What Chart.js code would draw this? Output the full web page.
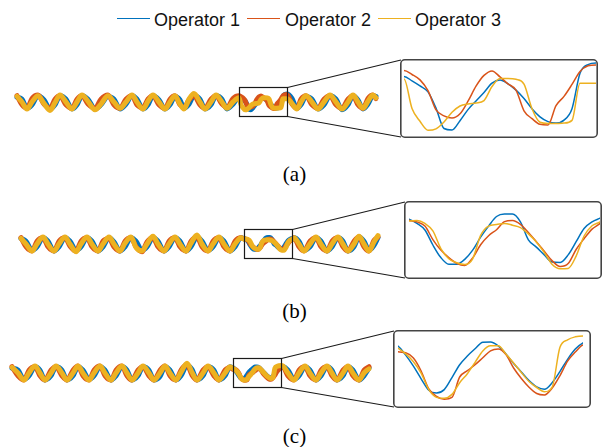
<!DOCTYPE html>
<html><head><meta charset="utf-8">
<script src="https://cdn.jsdelivr.net/npm/chart.js@4.4.0/dist/chart.umd.min.js"></script>
<style>
html,body{margin:0;padding:0;background:#fff;}
#wrap{position:relative;width:603px;height:447px;overflow:hidden;background:#fff;}
#wrap canvas{position:absolute;}
.leg{position:absolute;font-family:"Liberation Sans",Arial,sans-serif;font-size:18px;line-height:18px;color:#111;white-space:nowrap;}
.sw{position:absolute;height:1px;width:33px;}
.lab{position:absolute;font-family:"Liberation Serif","Times New Roman",serif;font-size:21px;line-height:21px;width:100px;text-align:center;color:#000;}
</style></head><body>
<div id="wrap"></div>
<script>
// ---------- DATA ----------
const SERIES_NAMES = ['Operator 1', 'Operator 2', 'Operator 3'];
const PANEL_LABELS = ['(a)', '(b)', '(c)'];

// Panel (a): sample index, three operators (normalised amplitude)
const T_A = [0,5,10,15,21,27,33,38,43,49,55,60,65,71,78,84,91,97,103,109,115,120,126,131,136,142,148,153,158,163,167,172,177,183,188,194,199,205,210,216,
 222,224,226,228,230,232,234,236,238,240,242,244,246,248,250,252,254,256,258,260,262,264,266,268,270,
 275,280,284,289,295,301,307,313,319,325,331,336,341,346,351,356,359];
const A_OP1 = [0.7,0.4,-0.9,-0.4,0.9,0.3,-1.0,-0.4,0.9,0.4,-1.0,-0.4,0.9,0.4,-1.0,-0.4,0.8,0.4,-1.0,-0.3,0.9,0.4,-1.0,-0.4,0.9,0.3,-1.0,-0.4,0.8,0.3,-0.9,-0.3,0.9,0.4,-1.0,-0.4,0.9,0.4,-1.0,-0.3,
 0.68,0.54,0.37,0.17,-0.37,-1.05,-1.10,-0.79,-0.42,-0.13,0.15,0.46,0.57,0.44,0.23,-0.05,-0.39,-0.66,-0.82,-0.87,-0.77,-0.39,0.79,1.08,1.13,
 0.5,-0.9,-0.4,0.8,0.4,-1.0,-0.4,0.9,0.4,-1.1,-0.4,0.9,0.3,-1.0,-0.3,0.9,0.8];
const A_OP2 = [0.9,-0.4,-0.9,0.5,1.0,-0.3,-0.9,0.4,0.9,-0.4,-0.9,0.4,0.9,-0.3,-0.9,0.4,1.0,-0.4,-0.9,0.4,0.9,-0.4,-0.8,0.4,0.9,-0.4,-0.9,0.4,0.9,-0.4,-0.8,0.3,0.9,-0.4,-0.9,0.4,0.9,-0.3,-0.8,0.5,
 0.88,0.75,0.57,0.21,-0.43,-0.63,-0.70,-0.56,-0.14,0.36,0.72,0.87,0.67,0.44,0.23,-0.46,-0.72,-0.91,-0.93,-0.29,0.02,0.42,0.85,1.04,1.07,
 -0.3,-0.9,0.4,0.9,-0.4,-0.9,0.4,0.9,-0.4,-0.9,0.4,0.9,-0.4,-0.9,0.5,1.0,0.5];
const A_OP3 = [0.8,0.0,-1.0,0.0,0.9,-0.2,-1.2,-0.1,1.0,0.0,-1.0,0.0,1.0,0.1,-1.1,-0.3,0.9,0.0,-0.9,0.0,1.0,0.0,-1.0,0.1,1.0,0.0,-1.0,0.0,0.9,-0.3,-1.0,0.4,1.2,0.0,-1.0,0.0,1.0,0.0,-0.9,0.0,
 0.60,-0.38,-0.81,-1.11,-1.06,-0.83,-0.51,-0.30,-0.23,-0.20,-0.12,0.35,0.62,0.62,0.59,0.43,-0.39,-0.84,-0.88,-0.88,-0.87,-0.78,0.46,0.46,0.46,
 -0.2,-1.0,0.0,0.9,0.0,-1.0,0.0,1.0,0.0,-1.0,0.0,1.0,0.0,-0.9,0.1,1.0,0.6];
const ZOOM_A = [222, 270];

// Panel (b)
const T_B = [0,5,11,16,22,27,33,38,44,49,55,60,66,71,77,82,88,93,99,104,110,115,121,126,132,137,143,148,154,159,165,170,176,181,187,192,198,203,209,214,220,
 223,225,227,229,231,233,235,237,239,241,243,245,247,249,251,253,255,257,259,261,263,265,267,269,271,
 273,278,283,289,295,300,306,311,317,322,327,333,338,343,348,353,357];
const B_OP1 = [0.8,0.4,-0.9,-0.4,0.9,0.4,-1.0,-0.4,0.9,0.4,-0.9,-0.4,0.9,0.4,-1.0,-0.4,0.9,0.3,-1.0,-0.4,0.9,0.4,-0.9,-0.4,0.9,0.4,-1.0,-0.4,0.9,0.4,-1.0,-0.4,1.0,0.4,-0.9,-0.4,0.9,0.4,-1.0,-0.4,0.9,
 0.76,0.62,0.40,-0.10,-0.52,-0.74,-0.74,-0.58,-0.27,0.16,0.53,0.85,0.93,0.93,0.67,0.07,-0.17,-0.43,-0.67,-0.68,-0.43,0.01,0.45,0.67,0.79,
 0.9,0.4,-0.9,-0.4,0.9,0.4,-1.0,-0.4,0.9,0.4,-1.0,-0.4,1.0,0.4,-0.9,-0.2,0.9];
const B_OP2 = [0.9,-0.4,-1.0,0.4,0.9,-0.4,-1.0,0.4,0.9,-0.3,-1.0,0.4,0.9,-0.4,-1.0,0.4,0.8,-0.4,-1.0,0.4,0.9,-0.4,-1.1,0.3,0.9,-0.4,-1.0,0.4,0.9,-0.4,-1.0,0.4,1.0,-0.4,-1.0,0.4,0.9,-0.4,-1.0,0.4,0.9,
 0.73,0.67,0.53,0.08,-0.27,-0.52,-0.71,-0.78,-0.53,-0.09,0.21,0.41,0.68,0.72,0.59,0.32,0.01,-0.31,-0.63,-0.82,-0.72,-0.25,0.11,0.43,0.62,
 0.9,-0.4,-1.0,0.4,0.9,-0.4,-1.0,0.4,0.9,-0.4,-1.0,0.4,1.0,-0.4,-1.0,0.5,1.0];
const B_OP3 = [0.8,0.0,-1.0,0.0,1.0,0.0,-1.0,0.0,1.0,0.0,-1.1,0.0,1.0,0.0,-1.0,0.0,1.0,0.0,-1.0,0.1,1.0,-0.5,-1.0,0.0,1.1,0.0,-1.0,0.0,1.0,0.0,-1.0,0.1,1.3,0.0,-1.0,0.0,1.0,0.0,-1.0,0.0,0.9,
 0.70,0.72,0.62,0.37,-0.22,-0.56,-0.69,-0.75,-0.56,0.22,0.53,0.58,0.62,0.56,0.48,0.27,0.00,-0.35,-0.75,-0.89,-0.88,-0.47,0.20,0.54,0.67,
 0.9,0.0,-1.0,0.0,1.0,0.0,-1.0,0.0,1.0,0.0,-1.0,0.0,1.1,0.0,-1.0,0.3,1.2];
const ZOOM_B = [223, 271];

// Panel (c)
const T_C = [0,6,12,17,23,28,33,39,44,50,55,61,66,71,77,82,88,93,99,104,110,115,120,126,131,137,142,148,153,158,164,169,175,180,185,191,196,202,207,213,218,
 221,223,225,227,229,231,233,235,237,239,241,243,245,247,249,251,253,255,257,259,261,263,265,267,269,
 271,276,282,287,293,298,304,309,315,320,325,331,336,341,347,352,357];
const C_OP1 = [0.7,0.4,-0.9,-0.4,0.9,0.4,-1.0,-0.4,0.9,0.4,-1.0,-0.4,0.9,0.4,-0.9,-0.4,0.9,0.4,-1.0,-0.4,0.9,0.4,-1.0,-0.4,0.9,0.4,-1.0,-0.5,0.9,0.4,-1.0,-0.4,1.1,0.5,-1.0,-0.4,0.9,0.4,-1.0,-0.4,0.9,
 0.73,0.43,0.06,-0.36,-0.74,-0.83,-0.72,-0.32,0.11,0.40,0.64,0.86,0.87,0.74,0.47,0.15,-0.13,-0.42,-0.63,-0.71,-0.49,-0.12,0.29,0.63,0.84,
 0.9,0.4,-0.9,-0.4,0.9,0.4,-1.0,-0.4,0.9,0.4,-1.0,-0.4,0.9,0.4,-1.0,-0.4,0.7];
const C_OP2 = [0.9,-0.4,-1.0,0.4,0.9,-0.4,-1.0,0.4,0.9,-0.4,-1.0,0.4,1.0,-0.4,-1.0,0.4,1.0,-0.4,-1.0,0.4,1.0,-0.4,-1.0,0.4,0.9,-0.4,-1.0,0.4,1.0,-0.4,-1.0,0.4,1.2,-0.3,-1.0,0.4,0.9,-0.4,-1.0,0.4,0.8,
 0.54,0.51,0.33,-0.10,-0.70,-0.95,-1.04,-0.98,-0.30,-0.09,0.11,0.34,0.57,0.63,0.45,0.00,-0.35,-0.64,-0.85,-0.90,-0.67,-0.26,0.23,0.53,0.77,
 0.8,-0.4,-1.0,0.4,0.9,-0.4,-1.0,0.4,0.9,-0.4,-1.0,0.4,0.9,-0.4,-1.0,0.4,0.9];
const C_OP3 = [0.8,0.0,-1.0,0.0,1.0,0.0,-1.0,0.0,1.0,0.0,-1.0,0.0,1.0,0.0,-1.0,0.0,1.0,0.0,-1.0,0.0,1.0,0.0,-1.0,0.0,1.0,0.0,-1.0,0.0,1.0,0.0,-1.0,0.1,1.4,0.1,-1.0,0.0,1.0,0.0,-1.0,0.0,0.9,
 0.66,0.47,0.21,-0.17,-0.72,-0.98,-1.01,-0.88,-0.49,-0.19,0.19,0.57,0.74,0.74,0.47,0.17,-0.15,-0.45,-0.65,-0.79,-0.64,0.68,0.94,1.04,1.07,
 1.0,0.0,-1.0,0.0,1.0,0.0,-1.0,0.0,1.0,0.0,-1.0,0.0,1.0,0.0,-1.0,0.0,0.6];
const ZOOM_C = [221, 269];

// ---------- STYLE / LAYOUT ----------
const COLORS = ['#0072BD', '#D95319', '#EDB120'];
const W = 603;
const MAIN_PX_PER_UNIT = 7;
const ZOOM_PX_PER_UNIT = 30;
const RECT_Y = [-2.0, 2.14];

const panels = [
  { t: T_A, ys: [A_OP1, A_OP2, A_OP3], zoom: ZOOM_A,
    main: { top: 45, height: 105, originX: 17, centerY: 102 },
    box: { left: 400, top: 59, width: 198, height: 79, padL: 4, padR: 2, centerY: 97 },
    labelTop: 163.7 },
  { t: T_B, ys: [B_OP1, B_OP2, B_OP3], zoom: ZOOM_B,
    main: { top: 190, height: 100, originX: 21, centerY: 244 },
    box: { left: 404, top: 201, width: 198, height: 78, padL: 5, padR: 2, centerY: 242 },
    labelTop: 300.7 },
  { t: T_C, ys: [C_OP1, C_OP2, C_OP3], zoom: ZOOM_C,
    main: { top: 320, height: 100, originX: 12, centerY: 373 },
    box: { left: 393, top: 330, width: 198, height: 78, padL: 5, padR: 8, centerY: 368 },
    labelTop: 425.7 }
];

const wrap = document.getElementById('wrap');
function mkCanvas(l, t, w, h) {
  const c = document.createElement('canvas');
  c.width = w; c.height = h;
  c.style.left = l + 'px'; c.style.top = t + 'px';
  c.style.width = w + 'px'; c.style.height = h + 'px';
  wrap.appendChild(c);
  return c;
}
function mkDatasets(p, lw) {
  return p.ys.map((ys, k) => ({
    label: SERIES_NAMES[k],
    data: p.t.map((x, i) => ({ x: x, y: ys[i] })),
    borderColor: COLORS[k],
    backgroundColor: COLORS[k],
    borderWidth: lw,
    pointRadius: 0,
    fill: false,
    cubicInterpolationMode: 'monotone',
    borderCapStyle: 'round',
    borderJoinStyle: 'round',
    order: 3 - k
  }));
}
const baseOpts = {
  responsive: false, maintainAspectRatio: false, animation: false, devicePixelRatio: 1, events: [],
  plugins: { legend: { display: false }, tooltip: { enabled: false }, title: { display: false } }
};

panels.forEach((p, pi) => {
  const m = p.main, b = p.box;
  // main chart
  const mc = mkCanvas(0, m.top, W, m.height);
  const cy = m.centerY - m.top;
  const boxPlugin = {
    id: 'zoomRect' + pi,
    afterDraw(chart) {
      const ctx = chart.ctx, xs = chart.scales.x, ysc = chart.scales.y;
      const x0 = xs.getPixelForValue(p.zoom[0]), x1 = xs.getPixelForValue(p.zoom[1]);
      const yT = ysc.getPixelForValue(RECT_Y[1]), yB = ysc.getPixelForValue(RECT_Y[0]);
      ctx.save();
      ctx.strokeStyle = '#1a1a1a';
      ctx.lineWidth = 1.2;
      ctx.strokeRect(Math.round(x0) + 0.5, Math.round(yT) + 0.5, Math.round(x1 - x0), Math.round(yB - yT));
      ctx.lineWidth = 1.1;
      ctx.beginPath();
      ctx.moveTo(Math.round(x1) + 0.5, Math.round(yT) + 0.5);
      ctx.lineTo(b.left + 1, b.top - m.top + 1);
      ctx.moveTo(Math.round(x1) + 0.5, Math.round(yB) + 0.5);
      ctx.lineTo(b.left + 1, b.top + b.height - m.top - 1);
      ctx.stroke();
      ctx.restore();
    }
  };
  new Chart(mc, {
    type: 'line',
    data: { datasets: mkDatasets(p, 5) },
    options: Object.assign({}, baseOpts, {
      layout: { padding: 0 },
      scales: {
        x: { type: 'linear', display: false, min: -m.originX, max: W - m.originX },
        y: { type: 'linear', display: false, min: -(m.height - cy) / MAIN_PX_PER_UNIT, max: cy / MAIN_PX_PER_UNIT }
      }
    }),
    plugins: [boxPlugin]
  });

  // zoom chart
  const zc = mkCanvas(b.left, b.top, b.width, b.height);
  const zcy = b.centerY - b.top;
  const borderPlugin = {
    id: 'zoomBorder' + pi,
    afterDraw(chart) {
      const ctx = chart.ctx;
      ctx.save();
      ctx.strokeStyle = '#444';
      ctx.lineWidth = 1.6;
      ctx.beginPath();
      ctx.roundRect(0.8, 0.8, b.width - 1.6, b.height - 1.6, 4);
      ctx.stroke();
      ctx.restore();
    }
  };
  new Chart(zc, {
    type: 'line',
    data: { datasets: mkDatasets(p, 1.5) },
    options: Object.assign({}, baseOpts, {
      layout: { padding: { left: b.padL, right: b.padR, top: 0, bottom: 0 } },
      scales: {
        x: { type: 'linear', display: false, min: p.zoom[0], max: p.zoom[1] },
        y: { type: 'linear', display: false, min: -(b.height - zcy) / ZOOM_PX_PER_UNIT, max: zcy / ZOOM_PX_PER_UNIT }
      }
    }),
    plugins: [borderPlugin]
  });

  // panel label
  const lab = document.createElement('div');
  lab.className = 'lab';
  lab.textContent = PANEL_LABELS[pi];
  lab.style.left = '244.5px';
  lab.style.top = p.labelTop + 'px';
  wrap.appendChild(lab);
});

// legend
const legPos = [{ sw: 117, tx: 154 }, { sw: 247, tx: 285 }, { sw: 378, tx: 415 }];
SERIES_NAMES.forEach((n, k) => {
  const s = document.createElement('div');
  s.className = 'sw';
  s.style.left = legPos[k].sw + 'px';
  s.style.top = '18px';
  s.style.background = COLORS[k];
  wrap.appendChild(s);
  const t = document.createElement('div');
  t.className = 'leg';
  t.textContent = n;
  t.style.left = legPos[k].tx + 'px';
  t.style.top = '11px';
  wrap.appendChild(t);
});
</script>
</body></html>
